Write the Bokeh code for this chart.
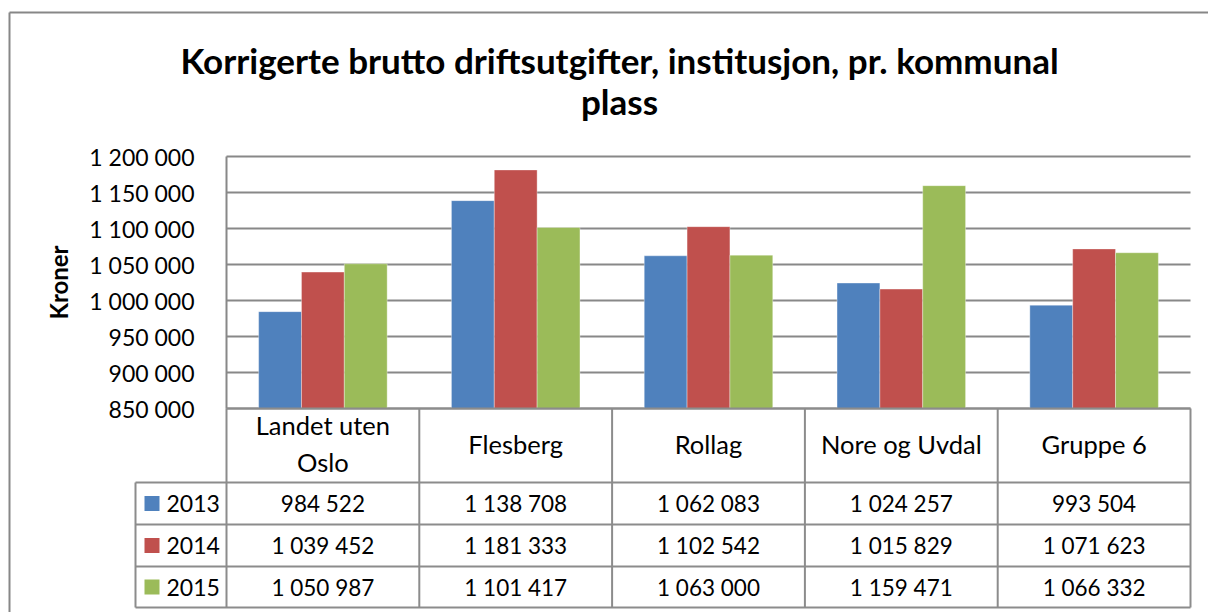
import math
from bokeh.plotting import figure
from bokeh.models import Range1d
from bokeh.core.properties import value
from bokeh.embed import file_html
from bokeh.resources import INLINE

# ---------------- data ----------------
categories = ["Landet uten Oslo", "Flesberg", "Rollag", "Nore og Uvdal", "Gruppe 6"]
category_labels = ["Landet uten\nOslo", "Flesberg", "Rollag", "Nore og Uvdal", "Gruppe 6"]
years = ["2013", "2014", "2015"]
values_2013 = [984522, 1138708, 1062083, 1024257, 993504]
values_2014 = [1039452, 1181333, 1102542, 1015829, 1071623]
values_2015 = [1050987, 1101417, 1063000, 1159471, 1066332]
y_ticks = [850000, 900000, 950000, 1000000, 1050000, 1100000, 1150000, 1200000]
title_lines = ["Korrigerte brutto driftsutgifter, institusjon, pr. kommunal", "plass"]
y_title = "Kroner"

series = [values_2013, values_2014, values_2015]
colors = ["#4F81BD", "#C0504D", "#9BBB59"]

# ---------------- layout (canvas px) ----------------
W, H = 1208, 612
PL, PR, PT, PB = 226, 1190, 156, 408      # plot area
ROWS = [PB, 482, 524, 566, 607]           # table horizontal lines
LEG_L = 135                               # legend column left
YMIN, YMAX = y_ticks[0], y_ticks[-1]
N = len(categories)
UX = (PR - PL) / N
KY = (YMAX - YMIN) / (PB - PT)


def dx(px):
    return (px - PL) / UX


def dy(py):
    return YMIN + (PB - py) * KY


def fmt(v):
    return f"{v:,}".replace(",", " ")


FONT = value("Lato")
GRID = "#888888"
TABLE = "#8c8c8c"
BLACK = "#000000"

p = figure(width=W, height=H, output_backend="svg", toolbar_location=None,
           x_range=Range1d(dx(0), dx(W)), y_range=Range1d(dy(H), dy(0)),
           x_axis_type=None, y_axis_type=None, min_border=0)
p.outline_line_color = None
p.grid.visible = False
p.background_fill_color = "white"
p.border_fill_color = "white"

# outer frame (left and top edges visible)
p.segment(x0=[dx(9), dx(9)], y0=[dy(12), dy(12)], x1=[dx(9), dx(W)], y1=[dy(H), dy(12)],
          line_color="#878787", line_width=2)

# gridlines
p.segment(x0=[0] * len(y_ticks), x1=[N] * len(y_ticks), y0=y_ticks, y1=y_ticks,
          line_color=GRID, line_width=2)
# vertical axis line
p.segment(x0=[0], x1=[0], y0=[YMIN], y1=[YMAX], line_color=GRID, line_width=2)

# bars
bw = 1 / (len(series) + 1.5)
for k, (vals, col) in enumerate(zip(series, colors)):
    xs = [i + 0.5 + (k - 1) * bw for i in range(N)]
    p.vbar(x=xs, width=bw, top=vals, bottom=YMIN, fill_color=col,
           line_color="#ffffff", line_alpha=0.35, line_width=1)

# y tick labels
p.text(x=[dx(194)] * len(y_ticks), y=y_ticks, text=[fmt(t) for t in y_ticks],
       text_align="right", text_baseline="middle", text_font=FONT,
       text_font_size="23px", text_color=BLACK)

# y axis title
p.text(x=[dx(58)], y=[(YMIN + YMAX) / 2], text=[y_title], angle=math.pi / 2,
       text_align="center", text_baseline="middle", text_font=FONT,
       text_font_size="24px", text_font_style="bold", text_color=BLACK)

# title
p.text(x=[dx(619), dx(619)], y=[dy(59), dy(100)], text=title_lines, text_align="center",
       text_baseline="middle", text_font=FONT, text_font_size="35px",
       text_font_style="bold", text_color=BLACK)

# ---------------- data table ----------------
hx0 = [0] + [dx(LEG_L)] * (len(ROWS) - 1)
p.segment(x0=hx0, x1=[N] * len(ROWS), y0=[dy(r) for r in ROWS], y1=[dy(r) for r in ROWS],
          line_color=TABLE, line_width=2)
vx = list(range(N + 1))
p.segment(x0=vx, x1=vx, y0=[dy(ROWS[0])] * len(vx), y1=[dy(ROWS[-1])] * len(vx),
          line_color=TABLE, line_width=2)
p.segment(x0=[dx(LEG_L)], x1=[dx(LEG_L)], y0=[dy(ROWS[1])], y1=[dy(ROWS[-1])],
          line_color=TABLE, line_width=2)

# header labels
p.text(x=[i + 0.5 for i in range(N)], y=[dy((ROWS[0] + ROWS[1]) / 2 - 2)] * N,
       text=category_labels, text_align="center", text_baseline="middle",
       text_font=FONT, text_font_size="25.5px", text_line_height=1.25,
       text_color=BLACK)

# rows
for k, (yr, vals, col) in enumerate(zip(years, series, colors)):
    yc = dy((ROWS[k + 1] + ROWS[k + 2]) / 2)
    p.scatter(x=[dx(151.5)], y=[yc], marker="square", size=15,
              fill_color=col, line_color=None)
    p.text(x=[dx(166)], y=[yc], text=[yr], text_align="left", text_baseline="middle",
           text_font=FONT, text_font_size="23px", text_color=BLACK)
    p.text(x=[i + 0.5 for i in range(N)], y=[yc] * N, text=[fmt(v) for v in vals],
           text_align="center", text_baseline="middle", text_font=FONT,
           text_font_size="22.5px", text_color=BLACK)

open("out.html", "w").write(file_html(p, INLINE))
